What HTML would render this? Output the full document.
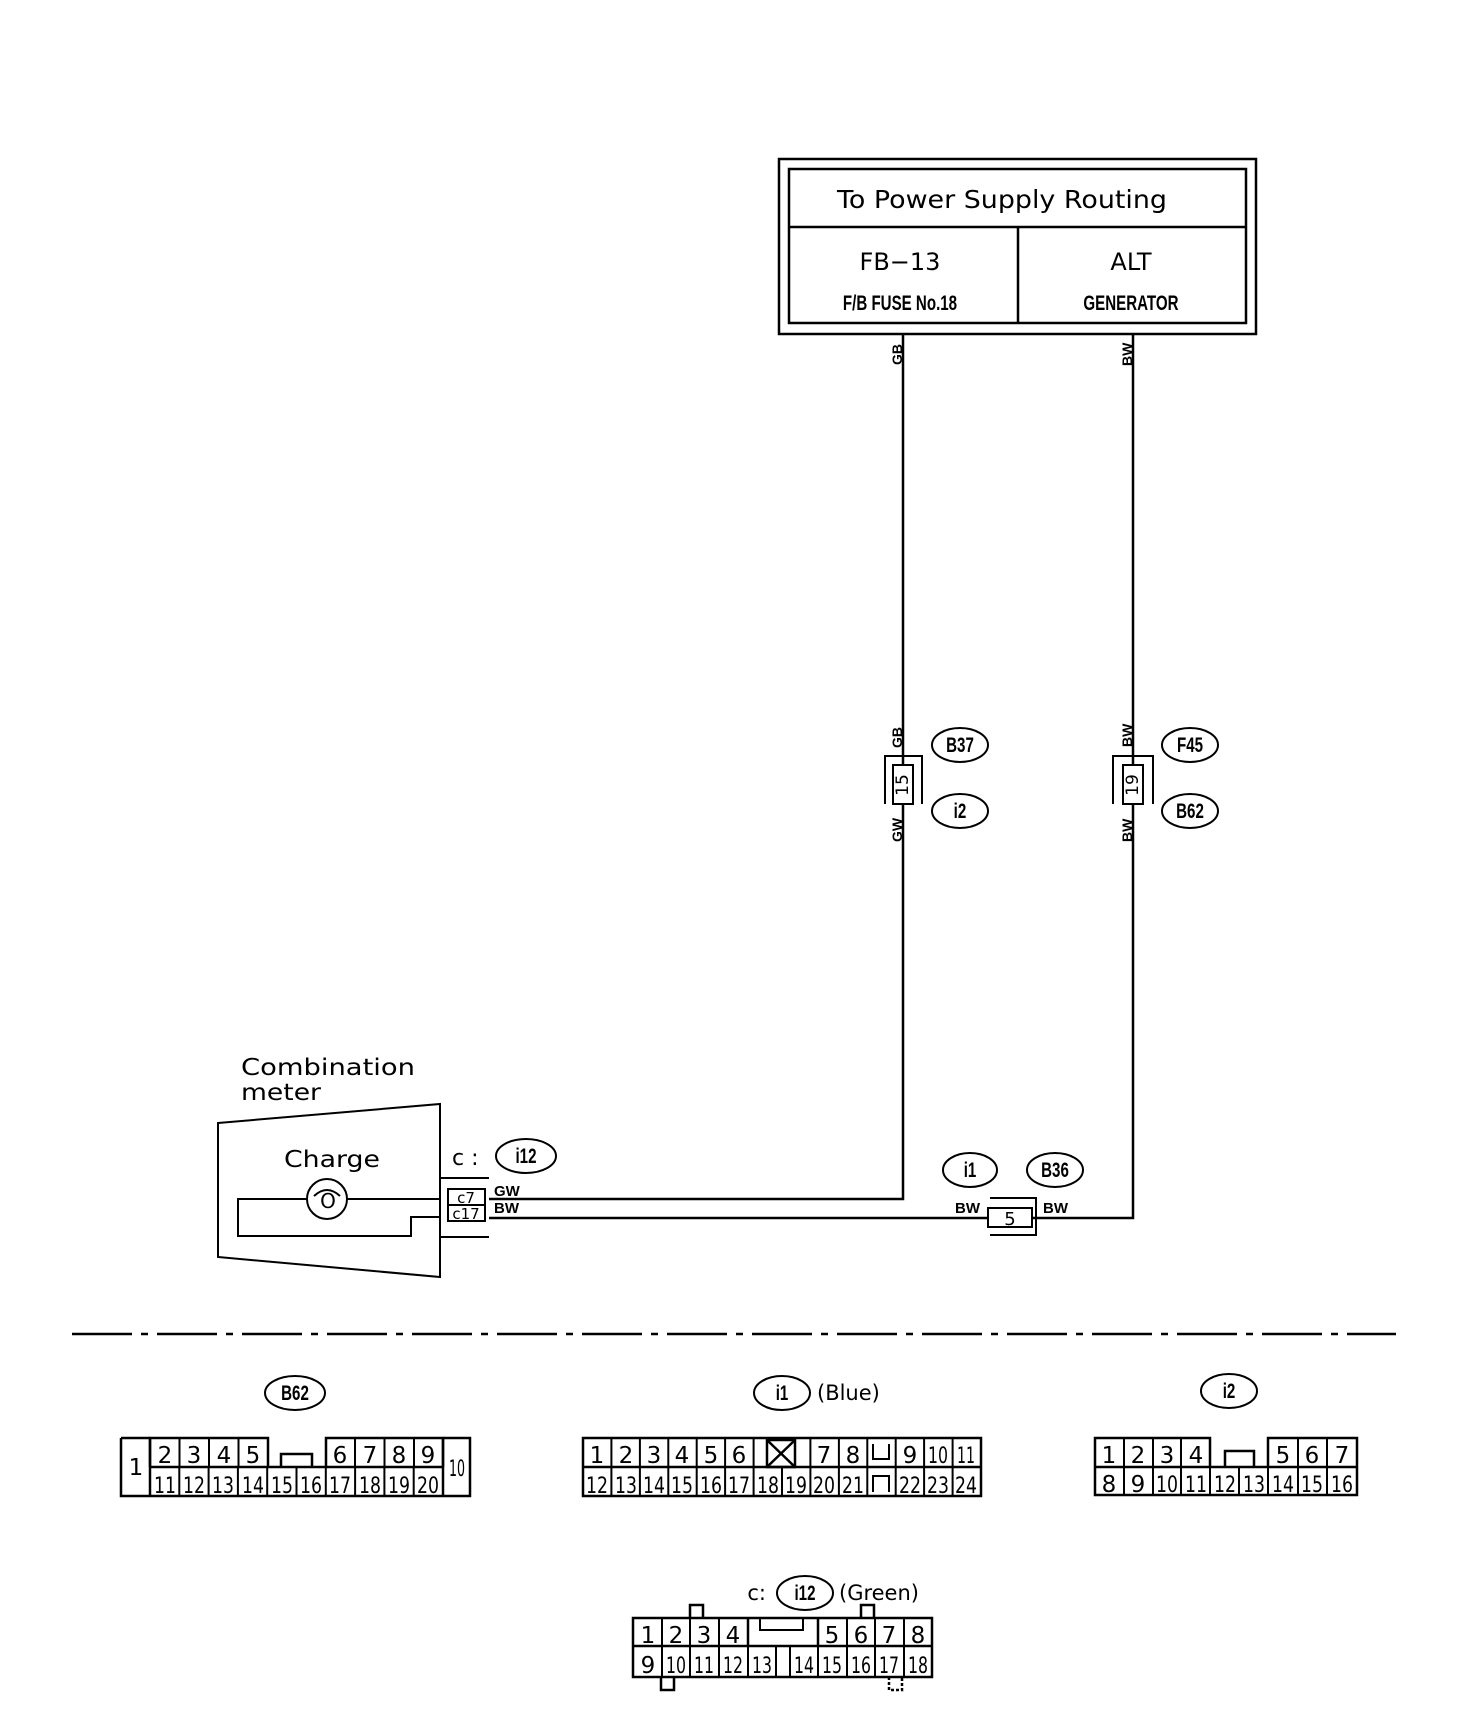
<!DOCTYPE html>
<html><head><meta charset="utf-8"><style>
html,body{margin:0;padding:0;background:#fff;}
svg{display:block;}
text{font-family:"DejaVu Sans","Liberation Sans",sans-serif;fill:#000;}
.c{font-family:"Liberation Sans",sans-serif;font-weight:bold;}
</style></head><body>
<svg width="1472" height="1720" viewBox="0 0 1472 1720" xmlns="http://www.w3.org/2000/svg" fill="none" stroke="#000" stroke-width="2">
<!-- top box -->
<rect x="779" y="159" width="477" height="175" stroke-width="2.5"/>
<rect x="789" y="169" width="457" height="154" stroke-width="2.5"/>
<line x1="789" y1="227" x2="1246" y2="227" stroke-width="2.5"/>
<line x1="1018" y1="227" x2="1018" y2="323" stroke-width="2.5"/>
<g stroke="none">
<text x="1002" y="208" font-size="25" text-anchor="middle" textLength="330" lengthAdjust="spacingAndGlyphs">To Power Supply Routing</text>
<text x="900" y="270" font-size="24" text-anchor="middle">FB−13</text>
<text x="1131" y="270" font-size="24" text-anchor="middle">ALT</text>
<text class="c" x="900" y="310" font-size="21" text-anchor="middle" transform="translate(900 0) scale(0.72 1) translate(-900 0)">F/B FUSE No.18</text>
<text class="c" x="1131" y="310" font-size="21" text-anchor="middle" transform="translate(1131 0) scale(0.72 1) translate(-1131 0)">GENERATOR</text>
</g>
<!-- wires -->
<polyline points="903,334 903,1199 489,1199" stroke-width="2.5"/>
<polyline points="1133,334 1133,1218 1032,1218" stroke-width="2.5"/>
<line x1="489" y1="1218" x2="988" y2="1218" stroke-width="2.5"/>
<!-- vertical wire labels -->
<g stroke="none" class="c" font-size="14">
<text class="c" transform="translate(902 365) rotate(-90)">GB</text>
<text class="c" transform="translate(1132 366) rotate(-90)">BW</text>
<text class="c" transform="translate(902 748) rotate(-90)">GB</text>
<text class="c" transform="translate(902 842) rotate(-90)">GW</text>
<text class="c" transform="translate(1132 747) rotate(-90)">BW</text>
<text class="c" transform="translate(1132 842) rotate(-90)">BW</text>
</g>
<!-- connector 15 -->
<polyline points="885,804 885,756 922,756 922,804"/>
<rect x="893" y="765" width="20" height="39" fill="#fff"/>
<text x="903" y="785" font-size="17" stroke="none" text-anchor="middle" dominant-baseline="middle" transform="rotate(-90 903 785)">15</text>
<!-- connector 19 -->
<polyline points="1113,804 1113,756 1153,756 1153,804"/>
<rect x="1123" y="765" width="20" height="39" fill="#fff"/>
<text x="1133" y="785" font-size="17" stroke="none" text-anchor="middle" dominant-baseline="middle" transform="rotate(-90 1133 785)">19</text>
<!-- ovals -->
<g>
<ellipse cx="960" cy="745" rx="28" ry="17"/>
<ellipse cx="960" cy="811" rx="28" ry="17"/>
<ellipse cx="1190" cy="745" rx="28" ry="17"/>
<ellipse cx="1190" cy="811" rx="28" ry="17"/>
<ellipse cx="970" cy="1170" rx="27" ry="17"/>
<ellipse cx="1055" cy="1170" rx="28" ry="17"/>
<ellipse cx="526" cy="1156" rx="30" ry="17"/>
<ellipse cx="295" cy="1393" rx="30" ry="17"/>
<ellipse cx="782" cy="1393" rx="28" ry="17"/>
<ellipse cx="1229" cy="1391" rx="28" ry="17"/>
<ellipse cx="805" cy="1593" rx="28" ry="17"/>
</g>
<g stroke="none" class="c" font-size="21" text-anchor="middle">
<text class="c" x="960" y="752" transform="translate(960 0) scale(0.72 1) translate(-960 0)">B37</text>
<text class="c" x="960" y="818" transform="translate(960 0) scale(0.72 1) translate(-960 0)">i2</text>
<text class="c" x="1190" y="752" transform="translate(1190 0) scale(0.72 1) translate(-1190 0)">F45</text>
<text class="c" x="1190" y="818" transform="translate(1190 0) scale(0.72 1) translate(-1190 0)">B62</text>
<text class="c" x="970" y="1177" transform="translate(970 0) scale(0.72 1) translate(-970 0)">i1</text>
<text class="c" x="1055" y="1177" transform="translate(1055 0) scale(0.72 1) translate(-1055 0)">B36</text>
<text class="c" x="526" y="1163" transform="translate(526 0) scale(0.72 1) translate(-526 0)">i12</text>
<text class="c" x="295" y="1400" transform="translate(295 0) scale(0.72 1) translate(-295 0)">B62</text>
<text class="c" x="782" y="1400" transform="translate(782 0) scale(0.72 1) translate(-782 0)">i1</text>
<text class="c" x="1229" y="1398" transform="translate(1229 0) scale(0.72 1) translate(-1229 0)">i2</text>
<text class="c" x="805" y="1600" transform="translate(805 0) scale(0.72 1) translate(-805 0)">i12</text>
</g>
<!-- B36 connector -->
<polyline points="990,1198 1036,1198 1036,1235 990,1235"/>
<rect x="988" y="1208" width="44" height="19" fill="#fff"/>
<text x="1010" y="1225" font-size="18" stroke="none" text-anchor="middle">5</text>
<g stroke="none" class="c" font-size="15">
<text class="c" x="955" y="1213">BW</text>
<text class="c" x="1043" y="1213">BW</text>
<text class="c" x="494" y="1196">GW</text>
<text class="c" x="494" y="1213">BW</text>
</g>
<!-- meter -->
<polygon points="218,1123 440,1104 440,1277 218,1257"/>
<text x="241" y="1075" font-size="23" stroke="none" textLength="174" lengthAdjust="spacingAndGlyphs">Combination</text>
<text x="241" y="1100" font-size="23" stroke="none" textLength="80" lengthAdjust="spacingAndGlyphs">meter</text>
<text x="332" y="1167" font-size="23" stroke="none" text-anchor="middle" textLength="96" lengthAdjust="spacingAndGlyphs">Charge</text>
<text x="452" y="1165" font-size="22" stroke="none">c :</text>
<polyline points="440,1199 238,1199 238,1236 411,1236 411,1217 440,1217"/>
<circle cx="327" cy="1199" r="20" fill="#fff"/>
<text x="328" y="1208" font-size="20" stroke="none" text-anchor="middle">O</text>
<path d="M314 1196 Q327 1184 340 1196"/>
<polyline points="440,1178 489,1178"/><polyline points="440,1237 489,1237"/>
<rect x="448" y="1189" width="37" height="16"/>
<rect x="448" y="1205" width="37" height="16"/>
<text x="466" y="1203" font-size="15" stroke="none" text-anchor="middle">c7</text>
<text x="466" y="1219" font-size="15" stroke="none" text-anchor="middle">c17</text>
<!-- dash line -->
<line x1="72" y1="1334" x2="1396" y2="1334" stroke-dasharray="60,9,7,9" stroke-width="2.5"/>
<!-- labels bottom -->
<g stroke="none" font-size="21">
<text x="817" y="1400">(Blue)</text>
<text x="766" y="1600" text-anchor="end">c:</text>
<text x="839" y="1600">(Green)</text>
</g>
<!-- B62 connector -->
<g stroke-width="2.5">
<polyline points="150,1467 150,1438 268,1438 268,1467"/>
<polyline points="326,1467 326,1438 443,1438 443,1467"/>
<polyline points="121,1438 150,1438"/><polyline points="443,1438 470,1438 470,1496 121,1496 121,1438"/>
<line x1="150" y1="1467" x2="443" y2="1467"/>
<line x1="150" y1="1438" x2="150" y2="1496"/><line x1="443" y1="1438" x2="443" y2="1496"/>
<polyline points="281,1467 281,1454 312,1454 312,1467"/>
</g>
<!-- i1 connector -->
<g stroke-width="2.5">
<rect x="583" y="1438" width="398" height="58"/>
<line x1="583" y1="1467" x2="981" y2="1467"/>
<rect x="767" y="1440" width="28" height="27"/>
<line x1="767" y1="1440" x2="795" y2="1467"/><line x1="795" y1="1440" x2="767" y2="1467"/>
<polyline points="873,1444 873,1459 889,1459 889,1444" stroke-width="2"/>
<polyline points="873,1492 873,1476 889,1476 889,1492" stroke-width="2"/>
</g>
<!-- i2 connector -->
<g stroke-width="2.5">
<polyline points="1210,1467 1210,1438 1095,1438 1095,1495 1357,1495 1357,1438 1268,1438 1268,1467"/>
<line x1="1095" y1="1467" x2="1357" y2="1467"/>
<polyline points="1225,1467 1225,1451 1254,1451 1254,1467"/>
</g>
<!-- i12 connector -->
<g stroke-width="2.5">
<rect x="633" y="1618" width="299" height="59"/>
<line x1="633" y1="1646" x2="932" y2="1646"/>
<line x1="748" y1="1618" x2="748" y2="1646"/><line x1="818" y1="1618" x2="818" y2="1646"/>
<polyline points="760,1619 760,1630 803,1630 803,1619" stroke-width="2"/>
<polyline points="690,1618 690,1605 703,1605 703,1618"/>
<polyline points="861,1618 861,1605 874,1605 874,1618"/>
<polyline points="661,1677 661,1690 674,1690 674,1677"/>
<polyline points="889,1677 889,1690 902,1690 902,1677" stroke-dasharray="3,2"/>
</g>
<!-- cell dividers -->
<g stroke-width="2">
<line x1="179.5" y1="1438" x2="179.5" y2="1467"/><line x1="209" y1="1438" x2="209" y2="1467"/><line x1="238.5" y1="1438" x2="238.5" y2="1467"/>
<line x1="355" y1="1438" x2="355" y2="1467"/><line x1="384.5" y1="1438" x2="384.5" y2="1467"/><line x1="414" y1="1438" x2="414" y2="1467"/>
<line x1="179.3" y1="1467" x2="179.3" y2="1496"/><line x1="208.6" y1="1467" x2="208.6" y2="1496"/><line x1="237.9" y1="1467" x2="237.9" y2="1496"/><line x1="267.2" y1="1467" x2="267.2" y2="1496"/><line x1="296.5" y1="1467" x2="296.5" y2="1496"/><line x1="325.8" y1="1467" x2="325.8" y2="1496"/><line x1="355.1" y1="1467" x2="355.1" y2="1496"/><line x1="384.4" y1="1467" x2="384.4" y2="1496"/><line x1="413.7" y1="1467" x2="413.7" y2="1496"/>
<line x1="611.4" y1="1438" x2="611.4" y2="1496"/><line x1="639.9" y1="1438" x2="639.9" y2="1496"/><line x1="668.3" y1="1438" x2="668.3" y2="1496"/><line x1="696.7" y1="1438" x2="696.7" y2="1496"/><line x1="725.1" y1="1438" x2="725.1" y2="1496"/><line x1="753.6" y1="1438" x2="753.6" y2="1496"/><line x1="782" y1="1467" x2="782" y2="1496"/><line x1="810.4" y1="1438" x2="810.4" y2="1496"/><line x1="838.9" y1="1438" x2="838.9" y2="1496"/><line x1="867.3" y1="1438" x2="867.3" y2="1496"/><line x1="895.7" y1="1438" x2="895.7" y2="1496"/><line x1="924.1" y1="1438" x2="924.1" y2="1496"/><line x1="952.6" y1="1438" x2="952.6" y2="1496"/>
<line x1="1124" y1="1438" x2="1124" y2="1495"/><line x1="1153" y1="1438" x2="1153" y2="1495"/><line x1="1181" y1="1438" x2="1181" y2="1495"/><line x1="1210" y1="1467" x2="1210" y2="1495"/><line x1="1239" y1="1467" x2="1239" y2="1495"/><line x1="1268" y1="1467" x2="1268" y2="1495"/><line x1="1298" y1="1438" x2="1298" y2="1495"/><line x1="1327" y1="1438" x2="1327" y2="1495"/>
<line x1="662" y1="1618" x2="662" y2="1646"/><line x1="690" y1="1618" x2="690" y2="1646"/><line x1="719" y1="1618" x2="719" y2="1646"/>
<line x1="847" y1="1618" x2="847" y2="1646"/><line x1="875" y1="1618" x2="875" y2="1646"/><line x1="904" y1="1618" x2="904" y2="1646"/>
<line x1="662" y1="1646" x2="662" y2="1677"/><line x1="690" y1="1646" x2="690" y2="1677"/><line x1="719" y1="1646" x2="719" y2="1677"/><line x1="748" y1="1646" x2="748" y2="1677"/><line x1="776" y1="1646" x2="776" y2="1677"/><line x1="790" y1="1646" x2="790" y2="1677"/><line x1="818" y1="1646" x2="818" y2="1677"/><line x1="847" y1="1646" x2="847" y2="1677"/><line x1="875" y1="1646" x2="875" y2="1677"/><line x1="904" y1="1646" x2="904" y2="1677"/>
</g>
<g stroke="none" font-size="23" text-anchor="middle">
<text x="136" y="1475">1</text>
<text x="165" y="1463">2</text><text x="194" y="1463">3</text><text x="224" y="1463">4</text><text x="253" y="1463">5</text>
<text x="340" y="1463">6</text><text x="370" y="1463">7</text><text x="399" y="1463">8</text><text x="428" y="1463">9</text>
<text x="597" y="1463">1</text><text x="626" y="1463">2</text><text x="654" y="1463">3</text><text x="682" y="1463">4</text><text x="711" y="1463">5</text><text x="739" y="1463">6</text><text x="824" y="1463">7</text><text x="853" y="1463">8</text><text x="910" y="1463">9</text>
<text x="1109" y="1463">1</text><text x="1138" y="1463">2</text><text x="1167" y="1463">3</text><text x="1196" y="1463">4</text><text x="1283" y="1463">5</text><text x="1312" y="1463">6</text><text x="1342" y="1463">7</text>
<text x="1109" y="1492">8</text><text x="1138" y="1492">9</text>
<text x="648" y="1643">1</text><text x="676" y="1643">2</text><text x="704" y="1643">3</text><text x="733" y="1643">4</text><text x="832" y="1643">5</text><text x="861" y="1643">6</text><text x="889" y="1643">7</text><text x="918" y="1643">8</text>
<text x="648" y="1673">9</text>
</g>
<g stroke="none" font-size="22" text-anchor="middle" font-family="Liberation Sans, sans-serif">
<text x="457" y="1476" textLength="16" lengthAdjust="spacingAndGlyphs">10</text>
<text x="938" y="1463" textLength="20" lengthAdjust="spacingAndGlyphs">10</text><text x="966" y="1463" textLength="18" lengthAdjust="spacingAndGlyphs">11</text>
<text x="165" y="1493" textLength="22" lengthAdjust="spacingAndGlyphs">11</text><text x="194" y="1493" textLength="22" lengthAdjust="spacingAndGlyphs">12</text><text x="223" y="1493" textLength="22" lengthAdjust="spacingAndGlyphs">13</text><text x="253" y="1493" textLength="22" lengthAdjust="spacingAndGlyphs">14</text><text x="282" y="1493" textLength="22" lengthAdjust="spacingAndGlyphs">15</text><text x="311" y="1493" textLength="22" lengthAdjust="spacingAndGlyphs">16</text><text x="340" y="1493" textLength="22" lengthAdjust="spacingAndGlyphs">17</text><text x="370" y="1493" textLength="22" lengthAdjust="spacingAndGlyphs">18</text><text x="399" y="1493" textLength="22" lengthAdjust="spacingAndGlyphs">19</text><text x="428" y="1493" textLength="22" lengthAdjust="spacingAndGlyphs">20</text>
<text x="597" y="1493" textLength="22" lengthAdjust="spacingAndGlyphs">12</text><text x="626" y="1493" textLength="22" lengthAdjust="spacingAndGlyphs">13</text><text x="654" y="1493" textLength="22" lengthAdjust="spacingAndGlyphs">14</text><text x="682" y="1493" textLength="22" lengthAdjust="spacingAndGlyphs">15</text><text x="711" y="1493" textLength="22" lengthAdjust="spacingAndGlyphs">16</text><text x="739" y="1493" textLength="22" lengthAdjust="spacingAndGlyphs">17</text><text x="768" y="1493" textLength="22" lengthAdjust="spacingAndGlyphs">18</text><text x="796" y="1493" textLength="22" lengthAdjust="spacingAndGlyphs">19</text><text x="824" y="1493" textLength="22" lengthAdjust="spacingAndGlyphs">20</text><text x="853" y="1493" textLength="22" lengthAdjust="spacingAndGlyphs">21</text><text x="910" y="1493" textLength="22" lengthAdjust="spacingAndGlyphs">22</text><text x="938" y="1493" textLength="22" lengthAdjust="spacingAndGlyphs">23</text><text x="966" y="1493" textLength="22" lengthAdjust="spacingAndGlyphs">24</text>
<text x="1167" y="1492" textLength="22" lengthAdjust="spacingAndGlyphs">10</text><text x="1196" y="1492" textLength="22" lengthAdjust="spacingAndGlyphs">11</text><text x="1225" y="1492" textLength="22" lengthAdjust="spacingAndGlyphs">12</text><text x="1254" y="1492" textLength="22" lengthAdjust="spacingAndGlyphs">13</text><text x="1283" y="1492" textLength="22" lengthAdjust="spacingAndGlyphs">14</text><text x="1312" y="1492" textLength="22" lengthAdjust="spacingAndGlyphs">15</text><text x="1342" y="1492" textLength="22" lengthAdjust="spacingAndGlyphs">16</text>
<text x="676" y="1673" textLength="20" lengthAdjust="spacingAndGlyphs">10</text><text x="704" y="1673" textLength="20" lengthAdjust="spacingAndGlyphs">11</text><text x="733" y="1673" textLength="20" lengthAdjust="spacingAndGlyphs">12</text><text x="762" y="1673" textLength="20" lengthAdjust="spacingAndGlyphs">13</text><text x="804" y="1673" textLength="20" lengthAdjust="spacingAndGlyphs">14</text><text x="832" y="1673" textLength="20" lengthAdjust="spacingAndGlyphs">15</text><text x="861" y="1673" textLength="20" lengthAdjust="spacingAndGlyphs">16</text><text x="889" y="1673" textLength="20" lengthAdjust="spacingAndGlyphs">17</text><text x="918" y="1673" textLength="20" lengthAdjust="spacingAndGlyphs">18</text>
</g>
</svg>
</body></html>
